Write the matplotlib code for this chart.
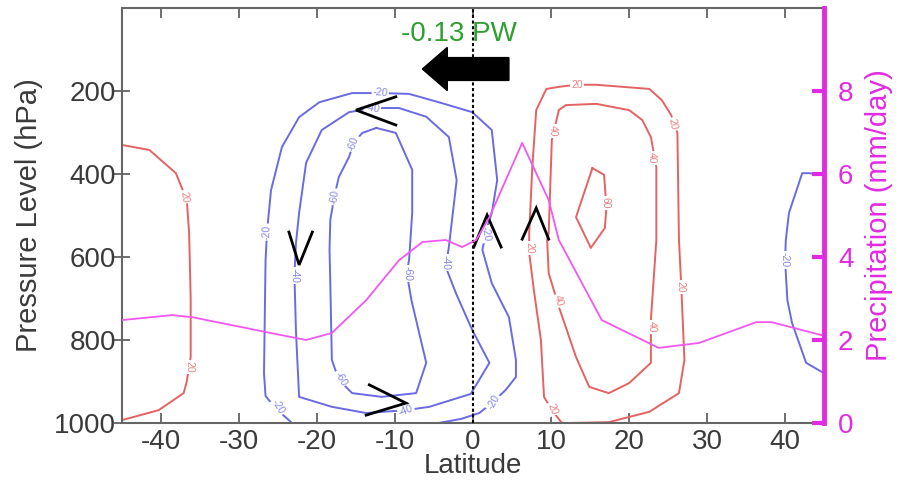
"""
Hadley circulation streamfunction (contours) with zonal-mean precipitation
Contours were read off the reference figure as (latitude, hPa) polylines.
"""

import matplotlib
matplotlib.use('Agg')
import matplotlib.pyplot as plt
from matplotlib.patches import FancyArrow

matplotlib.rcParams['font.family'] = ['Liberation Sans', 'DejaVu Sans']
matplotlib.rcParams['axes.unicode_minus'] = False

# ==================== data ====================
# streamfunction contours (1e9 kg/s), negative cell -> blue
neg20_lat = [-23.2, -25.3, -26.6, -26.8, -26.6, -26.4, -25.9, -24.5, -22.3, -19.7, -15.5, -11.7,
             -8.2, -4.4, -0.1, 2.4, 3.1, 2.4, 1.7, 1.2, 2.4, 4.6, 5.5, 5.5, 4.2, 2.4, 0.8, -1.5, -4.4]
neg20_p = [1000, 965, 935, 880, 607, 535, 439, 335, 263, 227, 205, 205,
           207, 227, 251, 294, 415, 494, 535, 583, 663, 745, 848, 889, 920, 952, 976, 990, 1000]

neg40_lat = [-12.9, -15.9, -19.4, -21.4, -22.3, -22.7, -22.9, -22.7, -22.3, -18.1, -13.7, -8.6,
             -5.6, -0.3, 2.1, -0.1, -2.2, -3.5, -3.1, -2.1, -3.1, -6.0, -9.5, -12.9]
neg40_p = [241, 251, 294, 373, 494, 566, 643, 780, 937, 961, 976, 969,
           961, 930, 855, 776, 687, 624, 576, 415, 311, 262, 241, 241]

neg60_lat = [-12.4, -9.9, -7.8, -7.8, -8.2, -8.5, -7.9, -6.0, -7.3, -11.7, -15.5, -17.2,
             -18.1, -18.3, -18.4, -18.3, -17.8, -17.2, -15.9, -15.3, -14.2, -12.4]
neg60_p = [289, 301, 390, 494, 607, 638, 704, 855, 928, 937, 928, 896,
           848, 663, 583, 511, 455, 407, 359, 325, 301, 289]

neg20_east_lat = [45, 43.1, 42.2, 40.5, 40.1, 40.0, 40.3, 40.9, 42.7, 45]
neg20_east_p = [402, 398, 398, 494, 559, 607, 704, 759, 855, 880]

# positive cells -> red
pos20_west_lat = [-45, -41.5, -38.1, -36.7, -36.4, -36.2, -36.2, -36.7, -37.1, -40.3, -45]
pos20_west_p = [330, 342, 398, 463, 542, 700, 841, 900, 928, 969, 993]

pos20_lat = [11.4, 10.1, 9.1, 8.7, 7.8, 7.2, 7.2, 7.6, 8.1, 9.4, 11.0, 13.2, 15.8, 22.6,
             24.2, 25.4, 26.2, 26.4, 26.7, 27.1, 26.4, 22.6, 17.4, 12.3]
pos20_p = [1000, 969, 937, 800, 680, 590, 542, 383, 246, 195, 190, 185, 185, 195,
           222, 258, 301, 559, 672, 848, 928, 973, 998, 1000]

pos40_lat = [11.0, 11.9, 15.8, 20.0, 21.7, 22.8, 23.5, 23.5, 22.8, 22.8, 20.0, 17.4,
             14.9, 13.2, 11.0, 9.7, 9.5, 9.7, 10.1, 11.0]
pos40_p = [246, 234, 231, 246, 270, 311, 383, 559, 752, 855, 904, 928,
           913, 841, 720, 639, 559, 542, 318, 246]

pos60_lat = [15.3, 16.8, 17.1, 16.9, 15.1, 13.2, 15.3]
pos60_p = [386, 402, 480, 530, 578, 504, 386]

# zonal-mean precipitation (mm/day)
precip_lat = [-45, -38.6, -36.0, -26.5, -21.4, -18.1, -13.7, -9.5, -6.5, -3.5, -1.4, 0.4,
              2.1, 6.3, 9.7, 11.0, 16.5, 23.8, 29.0, 36.3, 38.3, 45]
precip = [2.48, 2.60, 2.55, 2.19, 2.00, 2.17, 2.96, 3.92, 4.36, 4.41, 4.24, 4.41,
          4.96, 6.75, 5.37, 4.41, 2.48, 1.81, 1.93, 2.43, 2.43, 2.10]

energy_flux_text = '-0.13 PW'

# ==================== styles ====================
BLUE = '#6a6ae4'
RED = '#e46262'
BLUE_LBL = '#8585ee'
RED_LBL = '#ec8282'
MAGENTA = '#f157f1'
MAG_AXIS = '#e22ae2'
GRAY = '#3a3a3a'

contours = [
    (neg20_lat, neg20_p, BLUE), (neg40_lat, neg40_p, BLUE), (neg60_lat, neg60_p, BLUE),
    (neg20_east_lat, neg20_east_p, BLUE),
    (pos20_west_lat, pos20_west_p, RED), (pos20_lat, pos20_p, RED),
    (pos40_lat, pos40_p, RED), (pos60_lat, pos60_p, RED),
]

# contour labels: (lat, hPa, text, rotation)
blue_labels = [
    (-11.9, 205, '-20', -5), (-12.9, 241, '-40', -10), (-15.3, 327, '-60', 70),
    (-17.8, 455, '-60', 82), (-26.5, 540, '-20', 88), (-22.9, 645, '-40', -90),
    (-8.4, 640, '-60', -90), (-3.5, 614, '-40', -90), (-17.0, 893, '-60', -60),
    (-8.6, 969, '-40', 20), (-25.0, 962, '-20', -58), (2.6, 950, '-20', 60),
    (1.6, 545, '-20', -80), (39.9, 607, '-20', -90),
]
red_labels = [
    (-37.0, 455, '20', -80), (-36.3, 865, '20', -90), (13.3, 186, '20', 0),
    (25.6, 280, '20', -78), (26.6, 672, '20', -90), (10.2, 966, '20', -68),
    (7.2, 578, '20', -90), (22.9, 362, '40', -90), (22.9, 768, '40', -90),
    (11.0, 705, '40', -72), (10.2, 296, '40', -90), (17.0, 470, '60', -90),
]

# hand-drawn flow chevrons (lat, hPa)
chevrons = [
    ([-9.9, -15.0, -9.9], [214, 246, 282]),
    ([-23.6, -22.3, -20.6], [540, 619, 540]),
    ([-13.3, -8.6, -13.7], [908, 952, 981]),
    ([0.1, 1.8, 3.6], [576, 499, 576]),
    ([6.3, 8.1, 9.7], [557, 482, 557]),
]

# ==================== plot ====================
fig = plt.figure(figsize=(9, 4.82), dpi=100)
ax = fig.add_axes([0.1356, 0.1224, 0.78, 0.861])

for lat, p, c in contours:
    ax.plot(lat, p, color=c, lw=1.4, solid_joinstyle='round', zorder=2)

for lat, p, txt, rot in blue_labels:
    ax.text(lat, p, txt, color=BLUE_LBL, fontsize=7.5, rotation=rot, ha='center', va='center',
            rotation_mode='anchor', zorder=3,
            bbox=dict(boxstyle='square,pad=0.1', fc='white', ec='none'))
for lat, p, txt, rot in red_labels:
    ax.text(lat, p, txt, color=RED_LBL, fontsize=7.5, rotation=rot, ha='center', va='center',
            rotation_mode='anchor', zorder=3,
            bbox=dict(boxstyle='square,pad=0.1', fc='white', ec='none'))

ax.axvline(0, color='black', lw=1.5, ls=(0, (1.5, 1.2)), zorder=4)

ax.set_xlim(-45, 45)
ax.set_ylim(1000, 0)
ax.set_xticks(range(-40, 41, 10))
ax.set_yticks([200, 400, 600, 800, 1000])
ax.tick_params(axis='x', direction='in', top=True, length=7, width=1.2, labelsize=20,
               colors='#555555', labelcolor=GRAY, pad=4)
ax.tick_params(axis='y', direction='inout', length=11, width=1.2, labelsize=20,
               colors='#555555', labelcolor=GRAY, pad=-1)
for s in ax.spines.values():
    s.set_color('#666666')
    s.set_linewidth(1.5)
ax.set_xlabel('Latitude', fontsize=20, color=GRAY, labelpad=-1)
ax.set_ylabel('Pressure Level (hPa)', fontsize=21, color=GRAY, labelpad=8)

ax2 = ax.twinx()
ax2.plot(precip_lat, precip, color=MAGENTA, lw=1.3, zorder=2)
ax2.set_ylim(0, 10)
ax2.set_yticks([0, 2, 4, 6, 8])
ax2.tick_params(axis='y', direction='in', length=9, width=3, labelsize=20,
                colors=MAG_AXIS, pad=10)
for side in ['left', 'top', 'bottom']:
    ax2.spines[side].set_visible(False)
ax2.spines['right'].set_color(MAG_AXIS)
ax2.spines['right'].set_linewidth(3.5)
ax2.set_ylabel('Precipitation (mm/day)', fontsize=21, color=MAG_AXIS, labelpad=8)

# annotations on top
for xs, ps in chevrons:
    ax.plot(xs, ps, color='black', lw=2, solid_joinstyle='miter', zorder=6)
ax.text(-1.8, 62, energy_flux_text, color='#2e9e2e', fontsize=20, ha='center', va='center', zorder=5)
ax.add_patch(FancyArrow(4.6, 147, -11.1, 0, width=55, head_width=104, head_length=3.2,
                        length_includes_head=True, color='black', zorder=7))

plt.savefig('out.png', dpi=100)
plt.close()
